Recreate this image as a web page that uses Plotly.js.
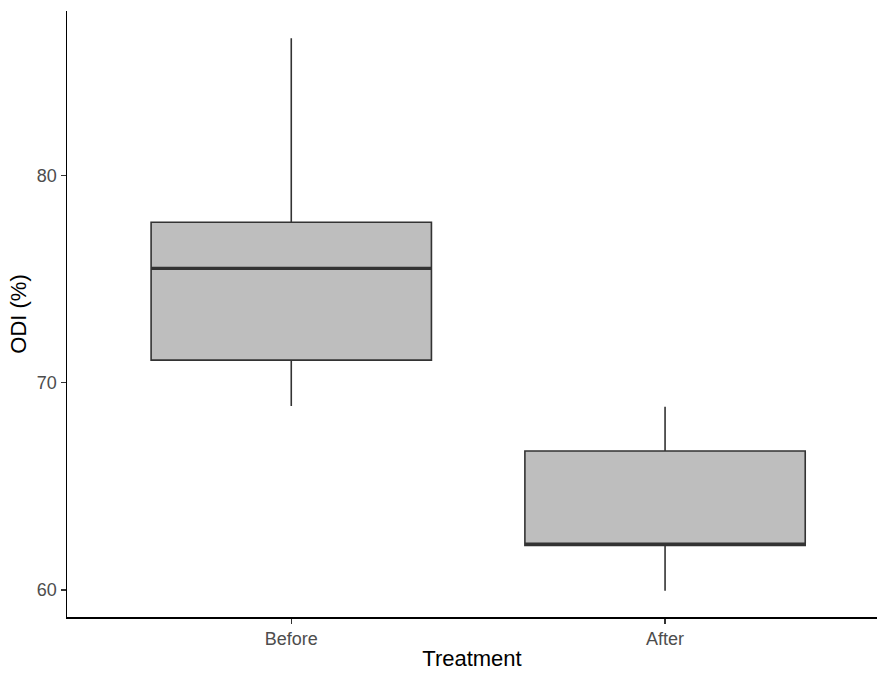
<!DOCTYPE html>
<html>
<head>
<meta charset="utf-8">
<script src="https://cdn.plot.ly/plotly-3.0.1.min.js"></script>
<style>html,body{margin:0;padding:0;background:#fff;}#chart{width:877px;height:677px;}</style>
</head>
<body>
<div id="chart"></div>
<script>
const categories = ["Before", "After"];
const positions = [0, 1];
const lowerWhisker = [68.88, 59.97];
const q1Values = [71.10, 62.15];
const medianValues = [75.53, 62.22];
const q3Values = [77.75, 66.71];
const upperWhisker = [86.63, 68.85];
const yTicks = [60, 70, 80];

const boxWidth = 0.75;
const traces = [{
  type: 'box',
  x: positions,
  q1: q1Values,
  median: medianValues,
  q3: q3Values,
  lowerfence: lowerWhisker,
  upperfence: upperWhisker,
  width: boxWidth,
  whiskerwidth: 0,
  fillcolor: '#bebebe',
  line: {color: '#333333', width: 1.6},
  hoverinfo: 'skip',
  showlegend: false
}];
positions.forEach((p, i) => {
  traces.push({
    type: 'scatter', mode: 'lines',
    x: [p - boxWidth / 2, p + boxWidth / 2],
    y: [medianValues[i], medianValues[i]],
    line: {color: '#333333', width: 3.2},
    hoverinfo: 'skip', showlegend: false
  });
});

const layout = {
  width: 877, height: 677,
  margin: {l: 67, r: 0, t: 11, b: 60},
  paper_bgcolor: '#ffffff', plot_bgcolor: '#ffffff',
  font: {family: 'Liberation Sans, Arial, sans-serif', color: '#000'},
  showlegend: false,
  xaxis: {
    range: [-0.6, 1.567],
    tickvals: positions, ticktext: categories,
    showgrid: false, zeroline: false,
    showline: true, linecolor: '#000', linewidth: 1.5,
    ticks: 'outside', ticklen: 5, tickcolor: '#333', tickwidth: 1.2,
    tickfont: {size: 18, color: '#4d4d4d'},
    title: {text: 'Treatment', font: {size: 22, color: '#000'}, standoff: 2}
  },
  yaxis: {
    range: [58.70, 87.95],
    tickvals: yTicks,
    showgrid: false, zeroline: false,
    showline: true, linecolor: '#000', linewidth: 1.5,
    ticks: 'outside', ticklen: 5, tickcolor: '#333', tickwidth: 1.2,
    tickfont: {size: 18, color: '#4d4d4d'},
    title: {text: 'ODI (%)', font: {size: 22, color: '#000'}, standoff: 4}
  }
};
Plotly.newPlot('chart', traces, layout, {displayModeBar: false, staticPlot: true});
</script>
</body>
</html>
